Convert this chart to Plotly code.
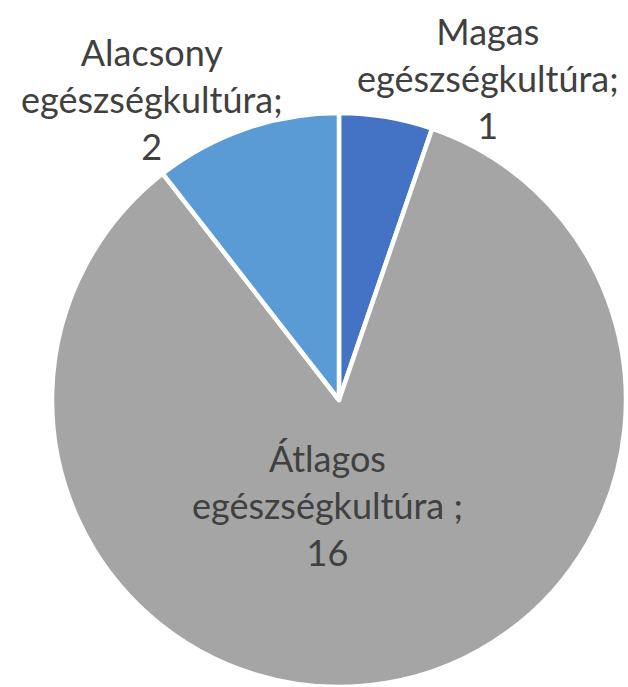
import plotly.graph_objects as go

# Categories (first line / second line of the label), separators and counts
category_head = ["Magas", "Átlagos", "Alacsony"]
category_tail = ["egészségkultúra", "egészségkultúra", "egészségkultúra"]
label_sep = [";", " ;", ";"]
counts = [1, 16, 2]
slice_colors = ["#4472C4", "#A5A5A5", "#5B9BD5"]

W, H = 628, 687
ML, MR, MT, MB = 52, 2, 113, 0
PW = W - ML - MR
PH = H - MT - MB

# label block centres in pixels (x, y of middle line)
label_px = [(488, 78), (327, 505), (152, 99)]


def to_paper(px, py):
    return (px - ML) / PW, (H - MB - py) / PH


fig = go.Figure(
    go.Pie(
        labels=[f"{h} {t}" for h, t in zip(category_head, category_tail)],
        values=counts,
        sort=False,
        direction="clockwise",
        rotation=0,
        marker=dict(colors=slice_colors, line=dict(color="white", width=4.5)),
        textinfo="none",
        hoverinfo="label+value",
        showlegend=False,
        domain=dict(x=[0, 1], y=[0, 1]),
    )
)

for head, tail, sep, val, (px, py) in zip(category_head, category_tail, label_sep, counts, label_px):
    ax, ay = to_paper(px, py)
    fig.add_annotation(
        x=ax, y=ay, xref="paper", yref="paper",
        text=f"{head}<br>{tail}{sep}<br>{val}",
        showarrow=False, xanchor="center", yanchor="middle",
        font=dict(family="Lato, Open Sans, sans-serif", size=36, color="#404040"),
    )

fig.update_layout(
    width=W, height=H,
    margin=dict(l=ML, r=MR, t=MT, b=MB),
    paper_bgcolor="white",
    plot_bgcolor="white",
)

fig.write_html("out.html")
